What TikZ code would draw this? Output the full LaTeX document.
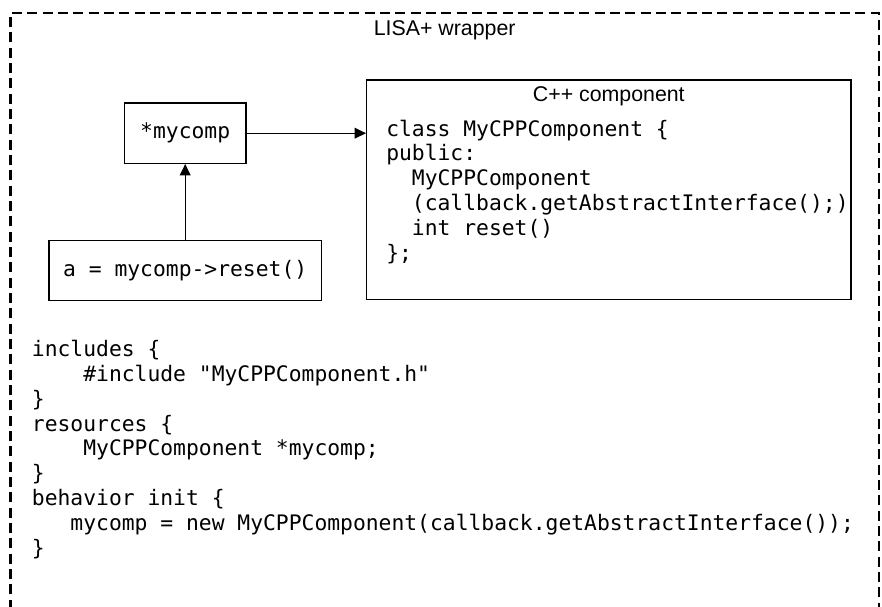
\documentclass[tikz,border=0pt]{standalone}
\usepackage{fontspec}
\setsansfont{Liberation Sans}
\setmonofont{DejaVu Sans Mono}
\usetikzlibrary{arrows.meta,positioning}

\begin{document}
\begin{tikzpicture}[x=0.75pt,y=-0.75pt,
    box/.style={draw,line width=1pt,inner sep=0pt},
    code/.style={font=\ttfamily\fontsize{16}{18.6}\selectfont,align=left,inner sep=0pt},
    title/.style={font=\sffamily\fontsize{16}{19}\selectfont,inner sep=0pt},
    link/.style={line width=1pt,-{Triangle[length=8.5pt,width=8pt]}}]
  \useasboundingbox (0,0) rectangle (882,607);
  % wrapper
  \draw[line width=1.6pt,dash pattern=on 7.5pt off 4pt] (10.5,625) -- (10.5,13) -- (879,13) -- (879,625);
  \node[title,anchor=base] (wrap) at (444.7,35) {LISA+ wrapper};
  % boxes
  \node[box,code,minimum width=91.3pt,minimum height=45.2pt] (mycomp) at (185.2,133.2) {*mycomp};
  \node[box,code,minimum width=204.5pt,minimum height=45.2pt,below=56.8pt of mycomp] (call) {a = mycomp->reset()};
  \node[box,minimum width=363.2pt,minimum height=164.5pt] (cpp) at (608.8,189.7) {};
  \node[title,anchor=base] (cpptitle) at (608.8,101.5) {C++ component};
  \node[code,anchor=base west] (cppcode) at (386,260) {class MyCPPComponent \{\\
public:\\
\phantom{xx}MyCPPComponent\\
\phantom{xx}(callback.getAbstractInterface();)\\
\phantom{xx}int reset()\\
\};};
  % arrows
  \draw[link] (mycomp.east) -- (mycomp.east -| cpp.west);
  \draw[link] (call.north) -- (mycomp.south);
  % wrapper code
  \node[code,anchor=base west] (lisacode) at (31.7,555) {includes \{\\
\phantom{xxxx}\#include "MyCPPComponent.h"\\
\}\\
resources \{\\
\phantom{xxxx}MyCPPComponent *mycomp;\\
\}\\
behavior init \{\\
\phantom{xxx}mycomp = new MyCPPComponent(callback.getAbstractInterface());\\
\}};
\end{tikzpicture}
\end{document}
